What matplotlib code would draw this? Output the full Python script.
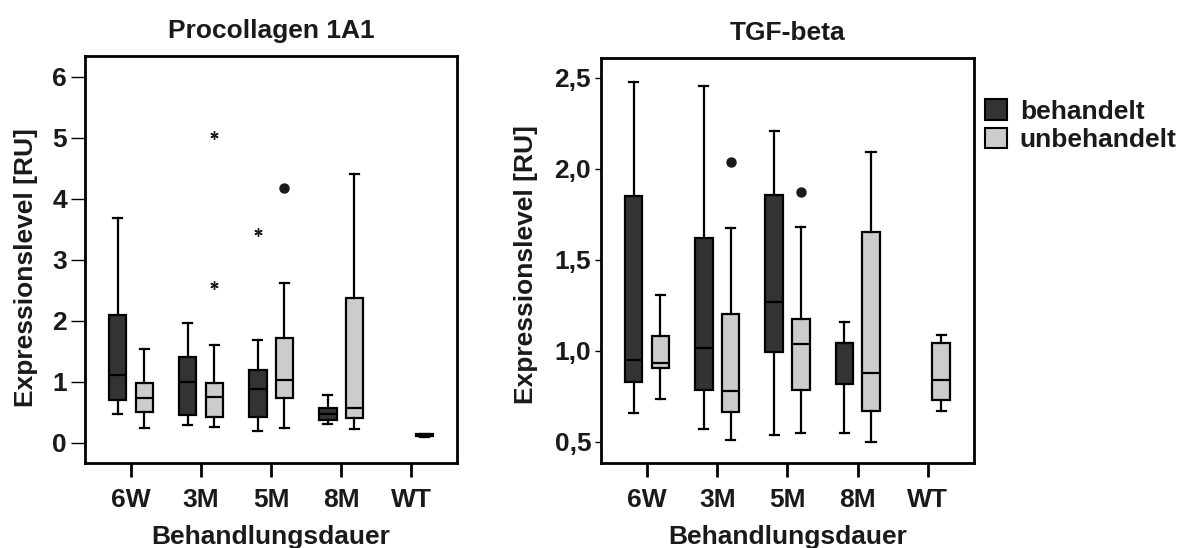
import matplotlib
matplotlib.use("Agg")
import matplotlib.pyplot as plt
from matplotlib.patches import Patch

plt.rcParams['font.family'] = ['Liberation Sans', 'DejaVu Sans']
plt.rcParams['font.weight'] = 'bold'

# groups on the x axis
groups = ["6W", "3M", "5M", "8M", "WT"]
dark_col = "#333333"
light_col = "#cccccc"

# Procollagen 1A1 : whisker low, q1, median, q3, whisker high (None = no box)
pc_beh = [
    [0.47, 0.70, 1.11, 2.10, 3.68],
    [0.30, 0.45, 0.99, 1.41, 1.96],
    [0.19, 0.42, 0.88, 1.20, 1.69],
    [0.31, 0.37, 0.47, 0.57, 0.79],
    None,
]
pc_unb = [
    [0.24, 0.50, 0.73, 0.98, 1.54],
    [0.26, 0.42, 0.75, 0.98, 1.61],
    [0.25, 0.74, 1.03, 1.72, 2.62],
    [0.22, 0.40, 0.57, 2.37, 4.41],
    [0.10, 0.11, 0.12, 0.14, 0.15],
]
pc_unb_dots = [[], [], [4.18], [], []]
pc_stars_beh = [[], [], [3.45], [], []]
pc_stars_unb = [[], [5.05, 2.59], [], [], []]
pc_yticks = [0, 1, 2, 3, 4, 5, 6]
pc_yticklabels = ["0", "1", "2", "3", "4", "5", "6"]

# TGF-beta
tgf_beh = [
    [0.656, 0.826, 0.949, 1.850, 2.474],
    [0.568, 0.784, 1.013, 1.617, 2.456],
    [0.537, 0.995, 1.266, 1.855, 2.207],
    [0.546, 0.815, 1.040, 1.040, 1.159],
    None,
]
tgf_unb = [
    [0.736, 0.907, 0.934, 1.081, 1.306],
    [0.507, 0.663, 0.780, 1.200, 1.672],
    [0.546, 0.784, 1.037, 1.174, 1.681],
    [0.496, 0.668, 0.879, 1.650, 2.093],
    [0.668, 0.731, 0.837, 1.044, 1.088],
]
tgf_unb_dots = [[], [2.035], [1.874], [], []]
tgf_yticks = [0.5, 1.0, 1.5, 2.0, 2.5]
tgf_yticklabels = ["0,5", "1,0", "1,5", "2,0", "2,5"]

FS = 19
TXT = "#1a1a1a"


def make_stats(rows, dots):
    stats, pos = [], []
    for i, r in enumerate(rows):
        if r is None:
            continue
        stats.append(dict(whislo=r[0], q1=r[1], med=r[2], q3=r[3], whishi=r[4],
                          fliers=dots[i] if dots else []))
        pos.append(i)
    return stats, pos


def draw_panel(ax, beh, unb, unb_dots, title, ylim, yticks, yticklabels,
               stars_beh=None, stars_unb=None, ytick_len=10):
    off = 0.19
    for rows, dots, col, sign in [(beh, None, dark_col, -1), (unb, unb_dots, light_col, 1)]:
        stats, pos = make_stats(rows, dots)
        ax.bxp(stats, positions=[p + sign * off for p in pos], widths=0.25,
               patch_artist=True, capwidths=0.13,
               boxprops=dict(facecolor=col, edgecolor="black", linewidth=1.6),
               medianprops=dict(color="black", linewidth=1.6),
               whiskerprops=dict(color="black", linewidth=1.6),
               capprops=dict(color="black", linewidth=1.6),
               flierprops=dict(marker="o", markerfacecolor=TXT,
                               markeredgecolor=TXT, markersize=6.5))
    for stars, sign in [(stars_beh, -1), (stars_unb, 1)]:
        if stars is None:
            continue
        for i, vals in enumerate(stars):
            if vals:
                ax.plot([i + sign * off] * len(vals), vals, linestyle="none",
                        marker=(6, 2, 0), markersize=6, color=TXT,
                        markeredgewidth=1.0)
    ax.set_xlim(-0.657, 4.657)
    ax.set_ylim(*ylim)
    ax.set_xticks(range(len(groups)))
    ax.set_xticklabels(groups, fontsize=FS, fontweight="bold", color=TXT)
    ax.set_yticks(yticks)
    ax.set_yticklabels(yticklabels, fontsize=FS, fontweight="bold", color=TXT)
    ax.tick_params(axis="x", length=10, width=2, pad=8)
    ax.tick_params(axis="y", length=ytick_len, width=1, pad=3)
    for s in ax.spines.values():
        s.set_linewidth(2)
    ax.set_title(title, fontsize=FS, fontweight="bold", pad=13, color=TXT)
    ax.set_xlabel("Behandlungsdauer", fontsize=FS, fontweight="bold", labelpad=9,
                  color=TXT)
    ax.set_ylabel("Expressionslevel [RU]", fontsize=FS, fontweight="bold",
                  color=TXT)


fig = plt.figure(figsize=(11.86, 5.48), dpi=100)
ax1 = fig.add_axes([0.0717, 0.155, 0.3137, 0.743])
ax2 = fig.add_axes([0.5067, 0.155, 0.3145, 0.739])

draw_panel(ax1, pc_beh, pc_unb, pc_unb_dots, "Procollagen 1A1", (-0.33, 6.34),
           pc_yticks, pc_yticklabels, pc_stars_beh, pc_stars_unb, ytick_len=10)
draw_panel(ax2, tgf_beh, tgf_unb, tgf_unb_dots, "TGF-beta", (0.383, 2.608),
           tgf_yticks, tgf_yticklabels, ytick_len=4)
ax1.yaxis.set_label_coords(-0.127, 0.48)
ax2.yaxis.set_label_coords(-0.17, 0.49)

handles = [Patch(facecolor=dark_col, edgecolor="black", linewidth=1.5, label="behandelt"),
           Patch(facecolor=light_col, edgecolor="black", linewidth=1.5, label="unbehandelt")]
leg = fig.legend(handles=handles, loc="upper left", bbox_to_anchor=(0.822, 0.838),
                 frameon=False, fontsize=FS, handlelength=0.8, handleheight=0.8,
                 handletextpad=0.5, labelspacing=0.15, borderaxespad=0)
for t in leg.get_texts():
    t.set_fontweight("bold")
    t.set_color(TXT)

fig.savefig("out.png", dpi=100)
